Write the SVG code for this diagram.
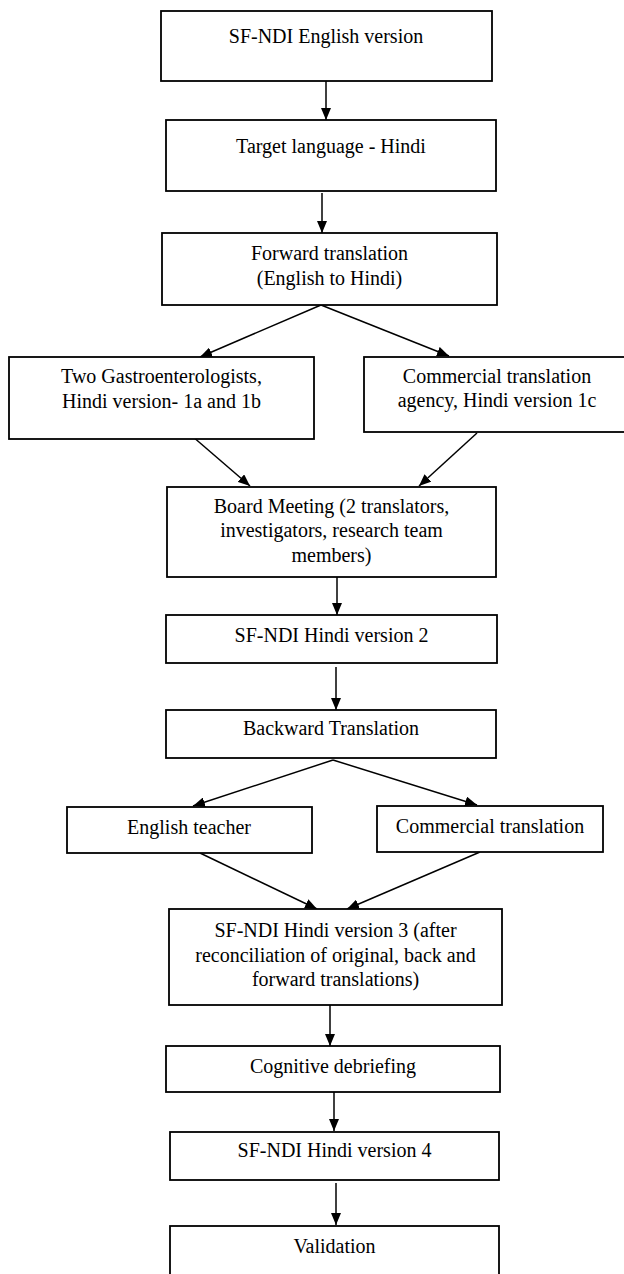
<svg xmlns="http://www.w3.org/2000/svg" width="624" height="1274" viewBox="0 0 624 1274">
<style>
.box{fill:#fff;stroke:#000;stroke-width:1.8}
.t{font-family:"Liberation Serif","Times New Roman",serif;font-size:20px;fill:#000;text-anchor:middle}
.c{stroke:#000;stroke-width:1.5;fill:none;marker-end:url(#ah)}
</style>
<defs>
<marker id="ah" markerUnits="userSpaceOnUse" markerWidth="12" markerHeight="10" refX="12" refY="5" orient="auto">
<path d="M0,0 L12,5 L0,10 z" fill="#000"/>
</marker>
</defs>
<rect width="624" height="1274" fill="#fff"/>
<g id="connectors">
<line class="c" x1="326" y1="81" x2="326" y2="120"/>
<line class="c" x1="322" y1="193" x2="322" y2="233"/>
<line class="c" x1="321" y1="305" x2="200" y2="357"/>
<line class="c" x1="321" y1="305" x2="449" y2="356"/>
<line class="c" x1="192" y1="436" x2="250" y2="486"/>
<line class="c" x1="477" y1="433" x2="419" y2="486"/>
<line class="c" x1="337" y1="577" x2="337" y2="615"/>
<line class="c" x1="336" y1="667" x2="336" y2="710"/>
<line class="c" x1="333" y1="760" x2="193" y2="806"/>
<line class="c" x1="333" y1="760" x2="477" y2="805"/>
<line class="c" x1="200" y1="853" x2="317" y2="909"/>
<line class="c" x1="480" y1="852" x2="347" y2="909"/>
<line class="c" x1="330" y1="1005" x2="330" y2="1046"/>
<line class="c" x1="334" y1="1092" x2="334" y2="1131"/>
<line class="c" x1="336" y1="1183" x2="336" y2="1225"/>
</g>
<g id="n1"><rect class="box" x="161" y="11" width="331" height="70"/><text class="t" x="326" y="43">SF-NDI English version</text></g>
<g id="n2"><rect class="box" x="166" y="120" width="330" height="71"/><text class="t" x="331" y="153">Target language - Hindi</text></g>
<g id="n3"><rect class="box" x="162" y="233" width="335" height="72"/><text class="t" x="329.5" y="260">Forward translation</text><text class="t" x="329.5" y="285">(English to Hindi)</text></g>
<g id="n4"><rect class="box" x="9" y="357" width="305" height="82"/><text class="t" x="161.5" y="383">Two Gastroenterologists,</text><text class="t" x="161.5" y="408">Hindi version- 1a and 1b</text></g>
<g id="n5"><rect class="box" x="364" y="357" width="266" height="75"/><text class="t" x="497" y="383">Commercial translation</text><text class="t" x="497" y="407">agency, Hindi version 1c</text></g>
<g id="n6"><rect class="box" x="167" y="487" width="329" height="90"/><text class="t" x="331.5" y="513">Board Meeting (2 translators,</text><text class="t" x="331.5" y="537">investigators, research team</text><text class="t" x="331.5" y="562">members)</text></g>
<g id="n7"><rect class="box" x="166" y="615" width="331" height="48"/><text class="t" x="331.5" y="642">SF-NDI Hindi version 2</text></g>
<g id="n8"><rect class="box" x="166" y="710" width="330" height="48"/><text class="t" x="331" y="735">Backward Translation</text></g>
<g id="n9"><rect class="box" x="67" y="807" width="245" height="46"/><text class="t" x="189" y="834">English teacher</text></g>
<g id="n10"><rect class="box" x="377" y="806" width="226" height="46"/><text class="t" x="490" y="833">Commercial translation</text></g>
<g id="n11"><rect class="box" x="169" y="909" width="333" height="96"/><text class="t" x="335.5" y="937">SF-NDI Hindi version 3 (after</text><text class="t" x="335.5" y="962">reconciliation of original, back and</text><text class="t" x="335.5" y="986">forward translations)</text></g>
<g id="n12"><rect class="box" x="166" y="1046" width="334" height="46"/><text class="t" x="333" y="1073">Cognitive debriefing</text></g>
<g id="n13"><rect class="box" x="170" y="1132" width="329" height="48"/><text class="t" x="334.5" y="1157">SF-NDI Hindi version 4</text></g>
<g id="n14"><rect class="box" x="170" y="1226" width="329" height="60"/><text class="t" x="334.5" y="1253">Validation</text></g>
</svg>
